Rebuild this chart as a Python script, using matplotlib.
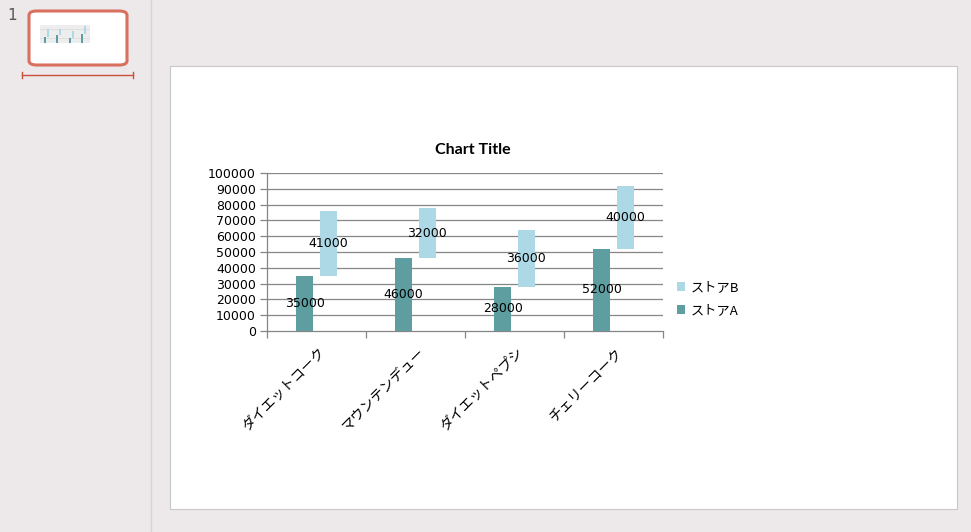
import matplotlib.pyplot as plt
import numpy as np
from matplotlib.patches import Rectangle, FancyBboxPatch
from matplotlib.lines import Line2D

plt.rcParams['font.family'] = ['Noto Sans CJK JP', 'DejaVu Sans']

# data
categories = ['ダイエットコーク', 'マウンテンデュー', 'ダイエットペプシ', 'チェリーコーク']
store_a = [35000, 46000, 28000, 52000]
store_b = [41000, 32000, 36000, 40000]
yticks = list(range(0, 100001, 10000))

color_a = '#5F9EA0'
color_b = '#ADD8E6'

W, H = 971, 532
fig = plt.figure(figsize=(W / 100, H / 100), dpi=100)
fig.patch.set_facecolor('#EDE8EA')

def fx(x):
	return x / W

def fy(y):
	return 1 - y / H

# left thumbnail panel separator
fig.add_artist(Line2D([fx(151), fx(151)], [0, 1], color='#D8D3D5', lw=1))
fig.text(fx(7), fy(16), '1', fontsize=11, color='#555555', family='DejaVu Sans', va='center')

# slide (kept under the axes)
fig.add_artist(Rectangle((fx(170), fy(509)), fx(787), 443 / H, facecolor='white',
	edgecolor='#C8C8C8', lw=0.8, zorder=-5))

# thumbnail frame: fill below, border above
fig.add_artist(FancyBboxPatch((fx(29), fy(65)), fx(98), 54 / H,
	boxstyle='round,pad=0,rounding_size=0.008', facecolor='white', edgecolor='none', zorder=-5))
fig.add_artist(FancyBboxPatch((fx(29), fy(65)), fx(98), 54 / H,
	boxstyle='round,pad=0,rounding_size=0.008', facecolor='none', edgecolor='#D9705F',
	lw=2.2, zorder=5))
fig.add_artist(Line2D([fx(22), fx(133)], [fy(75), fy(75)], color='#C9503C', lw=1))
fig.add_artist(Line2D([fx(22), fx(22)], [fy(72), fy(78)], color='#C9503C', lw=1))
fig.add_artist(Line2D([fx(133), fx(133)], [fy(72), fy(78)], color='#C9503C', lw=1))

x = np.arange(len(categories))
bw = 0.165
off = 0.12

# mini chart in the thumbnail
tax = fig.add_axes([fx(40), fy(43), fx(50), 18 / H])
tax.patch.set_alpha(0)
tax.bar(x - off, store_a, bw, color=color_a)
tax.bar(x + off, store_b, bw, bottom=store_a, color=color_b)
tax.set_ylim(0, 100000)
tax.set_xlim(-0.5, 3.5)
for t in yticks:
	tax.axhline(t, color='#AAAAAA', lw=0.3, zorder=0)
tax.axis('off')

# main chart
ax = fig.add_axes([fx(267), fy(331), fx(396), 158 / H])
ax.patch.set_alpha(0)
ax.bar(x - off, store_a, bw, color=color_a, zorder=3, label='ストアA')
ax.bar(x + off, store_b, bw, bottom=store_a, color=color_b, zorder=3, label='ストアB')

for i in range(len(categories)):
	ax.text(x[i] - off, store_a[i] / 2, str(store_a[i]), ha='center', va='center',
		fontsize=9, zorder=4, family='DejaVu Sans')
	ax.text(x[i] + off, store_a[i] + store_b[i] / 2, str(store_b[i]), ha='center', va='center',
		fontsize=9, zorder=4, family='DejaVu Sans')

ax.set_xlim(-0.5, 3.5)
ax.set_ylim(0, 100000)
ax.set_yticks(yticks)
ax.set_yticklabels([str(t) for t in yticks], fontsize=9, family='DejaVu Sans')
for t in yticks[1:]:
	ax.axhline(t, color='#868686', lw=0.9, zorder=1)

ax.set_xticks(np.arange(-0.5, 3.6, 1.0))
ax.set_xticklabels([])
ax.tick_params(axis='x', length=5, color='#868686', width=0.9)
ax.tick_params(axis='y', length=5, color='#868686', width=0.9, pad=3)
for i, c in enumerate(categories):
	ax.text(i + 0.02, -9000, c, rotation=45, ha='right', va='top', fontsize=10,
		rotation_mode='anchor')

for s in ['top', 'right']:
	ax.spines[s].set_visible(False)
for s in ['left', 'bottom']:
	ax.spines[s].set_color('#868686')
	ax.spines[s].set_linewidth(0.9)

fig.text(fx(473), fy(150), 'Chart Title', ha='center', va='center', fontsize=11.5,
	fontweight='bold', family=['Lato', 'DejaVu Sans'])

h, l = ax.get_legend_handles_labels()
fig.legend(h[::-1], l[::-1], loc='upper left', bbox_to_anchor=(fx(672), fy(276)),
	frameon=False, fontsize=9.5, handlelength=0.6, handleheight=0.6,
	handletextpad=0.4, labelspacing=0.75, borderaxespad=0)

fig.savefig('out.png', dpi=100, facecolor=fig.get_facecolor())
